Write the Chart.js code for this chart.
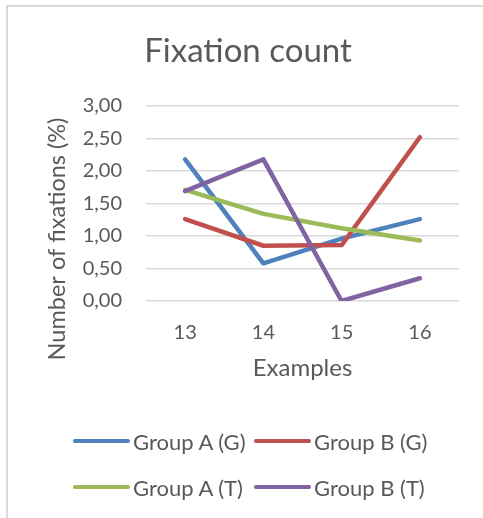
<!DOCTYPE html>
<html>
<head>
<meta charset="utf-8">
<script src="https://cdn.jsdelivr.net/npm/chart.js@4.4.1/dist/chart.umd.min.js"></script>
<style>
  html, body { margin: 0; padding: 0; background: #fff; overflow: hidden; }
  body { width: 483px; height: 518px; position: relative; font-family: Lato, "Open Sans", sans-serif; }
  #frame { position: absolute; left: 6px; top: 5px; width: 1000px; height: 1000px;
           border-left: 2px solid #d9d9d9; border-top: 2px solid #d9d9d9; }
  #wrap { position: absolute; left: 0; top: 0; width: 483px; height: 518px; }
  #legend { position: absolute; left: 73px; top: 418px; display: grid;
            grid-template-columns: 181px auto; grid-auto-rows: 46px; }
  .item { display: flex; align-items: center; color: #595959; font-size: 22px; white-space: nowrap; }
  .swatch { width: 57px; height: 4px; border-radius: 2px; margin-right: 3px; }
</style>
</head>
<body>
<div id="frame"></div>
<div id="wrap"><canvas id="chart" width="483" height="518"></canvas></div>
<div id="legend"></div>
<script>
// Fixation count per example, in percent
const examples = ['13', '14', '15', '16'];
const groupAG = [2.18, 0.58, 0.96, 1.26];
const groupBG = [1.26, 0.85, 0.86, 2.52];
const groupAT = [1.71, 1.34, 1.12, 0.93];
const groupBT = [1.69, 2.18, 0.00, 0.35];
const seriesNames = ['Group A (G)', 'Group B (G)', 'Group A (T)', 'Group B (T)'];
const seriesColors = ['#4f81bd', '#c0504d', '#9bbb59', '#8064a2'];
const yTicks = [0, 0.5, 1, 1.5, 2, 2.5, 3];

const chartTitle = 'Fixation count';
const xTitle = 'Examples';
const yTitle = 'Number of fixations (%)';
const textColor = '#595959';
const fontFamily = 'Lato, "Open Sans", sans-serif';

const seriesValues = [groupAG, groupBG, groupAT, groupBT];

// Chart title and axis titles, placed relative to the plot area
const titlesPlugin = {
  id: 'titles',
  afterDraw(chart) {
    const { ctx } = chart;
    ctx.save();
    ctx.fillStyle = textColor;
    ctx.textAlign = 'center';
    ctx.textBaseline = 'alphabetic';

    ctx.font = '33px ' + fontFamily;
    ctx.fillText(chartTitle, 248, 62);

    ctx.font = '24px ' + fontFamily;
    ctx.fillText(xTitle, 302.5, 376);

    ctx.translate(65, 239);
    ctx.rotate(-Math.PI / 2);
    ctx.font = '23.5px ' + fontFamily;
    ctx.fillText(yTitle, 0, 0);
    ctx.restore();
  }
};

const datasets = seriesNames.map((name, i) => ({
  label: name,
  data: seriesValues[i],
  borderColor: seriesColors[i],
  backgroundColor: seriesColors[i],
  borderWidth: 4.5,
  borderCapStyle: 'round',
  borderJoinStyle: 'round',
  pointRadius: 0,
  pointHoverRadius: 0,
  tension: 0,
  fill: false,
  // later series are painted over earlier ones
  order: seriesNames.length - i
}));

const chart = new Chart(document.getElementById('chart'), {
  type: 'line',
  data: { labels: examples, datasets },
  plugins: [titlesPlugin],
  options: {
    responsive: false,
    animation: false,
    events: [],
    layout: { padding: { top: 106, right: 24, bottom: 177, left: 0 } },
    plugins: {
      legend: { display: false },
      title: { display: false },
      tooltip: { enabled: false }
    },
    scales: {
      x: {
        offset: true,
        grid: { display: false, drawTicks: false },
        border: { display: false },
        ticks: { color: textColor, font: { family: fontFamily, size: 20 }, padding: 20 },
        afterFit(scale) { scale.height = 40; }
      },
      y: {
        min: 0,
        max: 3,
        afterBuildTicks(scale) { scale.ticks = yTicks.map(v => ({ value: v })); },
        grid: { color: '#d9d9d9', lineWidth: 1.5, drawTicks: false },
        border: { display: false },
        ticks: {
          color: textColor,
          font: { family: fontFamily, size: 20 },
          padding: 24,
          callback: v => Number(v).toFixed(2).replace('.', ',')
        },
        afterFit(scale) { scale.width = 146; }
      }
    }
  }
});

// Legend in two columns, built from the chart's datasets
const legend = document.getElementById('legend');
chart.data.datasets.forEach(ds => {
  const item = document.createElement('div');
  item.className = 'item';
  const sw = document.createElement('span');
  sw.className = 'swatch';
  sw.style.background = ds.borderColor;
  const label = document.createElement('span');
  label.textContent = ds.label;
  item.appendChild(sw);
  item.appendChild(label);
  legend.appendChild(item);
});
</script>
</body>
</html>
